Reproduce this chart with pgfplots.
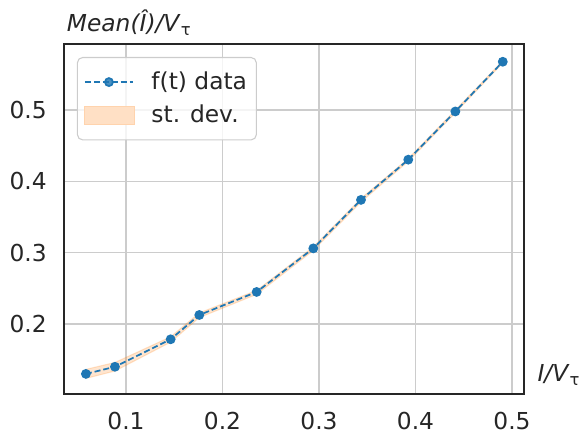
\documentclass[border=0pt]{standalone}
\usepackage{fontspec}
\setmainfont{DejaVu Sans}
\usepackage{pgfplots}
\pgfplotsset{compat=1.18}
\usepgfplotslibrary{fillbetween}
\definecolor{tabblue}{HTML}{1F77B4}
\definecolor{taborange}{HTML}{FF7F0E}
\definecolor{spine}{HTML}{262626}
\definecolor{gridc}{HTML}{CCCCCC}
\colorlet{bandfill}{taborange!24!white}
\colorlet{bandedge}{taborange!34!white}
\pgfplotsset{arealeg/.style={legend image code/.code={\path[sharp corners, fill=bandfill, draw=bandedge, line width=0.8pt, opacity=1, fill opacity=1, draw opacity=1] (0pt,-6.75pt) rectangle (37.5pt,6.75pt);}}}
\pgfplotstableread{
x       m       lo      hi
0.0585  0.1300  0.1237  0.1363
0.0886  0.1400  0.1340  0.1460
0.1463  0.1785  0.1745  0.1820
0.1760  0.2126  0.2090  0.2155
0.2354  0.2449  0.2415  0.2470
0.2941  0.3060  0.3030  0.3080
0.3435  0.3740  0.3710  0.3760
0.3925  0.4304  0.4280  0.4320
0.4413  0.4980  0.4960  0.5000
0.4904  0.5677  0.5660  0.5690
}\datatab
\begin{document}
\fontsize{17.5}{21}\selectfont
\color{spine}
\begin{tikzpicture}
\begin{axis}[
  name=ax,
  scale only axis, width=345pt, height=262.5pt,
  xmin=0.0358, xmax=0.5124, ymin=0.1018, ymax=0.5926,
  xtick={0.1,0.2,0.3,0.4,0.5}, ytick={0.2,0.3,0.4,0.5},
  /pgf/number format/assume math mode=true,
  /pgf/number format/fixed, /pgf/number format/precision=1,
  ticklabel style={text=spine},
  yticklabel style={anchor=east, inner sep=0pt, xshift=-12.75pt},
  xticklabel style={anchor=north, inner sep=0pt, yshift=-13.5pt},
  major tick length=0pt, tick style={draw=none},
  grid=major, major grid style={gridc, line width=1.2pt},
  axis line style={spine, line width=1.1pt},
  legend cell align=left,
  legend image code/.code={\draw[#1, mark repeat=2, mark phase=2] plot coordinates {(0pt,0pt) (18pt,0pt) (36pt,0pt)};},
  legend style={at={(rel axis cs:0.028,0.963)}, anchor=north west,
    draw=gridc, line width=0.8pt, rounded corners=4pt, fill=white, fill opacity=0.8, text opacity=1,
    text=spine, inner xsep=5pt, inner ysep=8.5pt, row sep=5pt, column sep=10pt},
]
\addplot[name path=up, draw=none, forget plot] table[x=x, y=hi] {\datatab};
\addplot[name path=dn, draw=none, forget plot] table[x=x, y=lo] {\datatab};
\addplot[fill=taborange, fill opacity=0.2, draw=taborange, draw opacity=0.2, line width=0.8pt, forget plot] fill between[of=up and dn];
\addplot[tabblue, line width=1.3pt, dash pattern=on 4.5pt off 2.2pt, mark=*, mark size=3pt,
  mark options={solid, fill=tabblue, draw=tabblue}]
  table[x=x, y=m] {\datatab};
\addlegendentry{f(t) data}
\addlegendimage{arealeg}
\addlegendentry{st. dev.}
\end{axis}
\node[anchor=base west, inner sep=0pt, text=spine] at ([xshift=2pt, yshift=9pt]ax.north west) {\textit{Mean(Î)/V}\textsubscript{τ}};
\node[anchor=west, inner sep=0pt, text=spine] at ([xshift=10pt, yshift=14.25pt]ax.south east) {\textit{I/V}\textsubscript{τ}};
\pgfresetboundingbox
\path[use as bounding box] (-48pt,-33.75pt) rectangle (387.75pt,295.5pt);
\end{tikzpicture}
\end{document}
